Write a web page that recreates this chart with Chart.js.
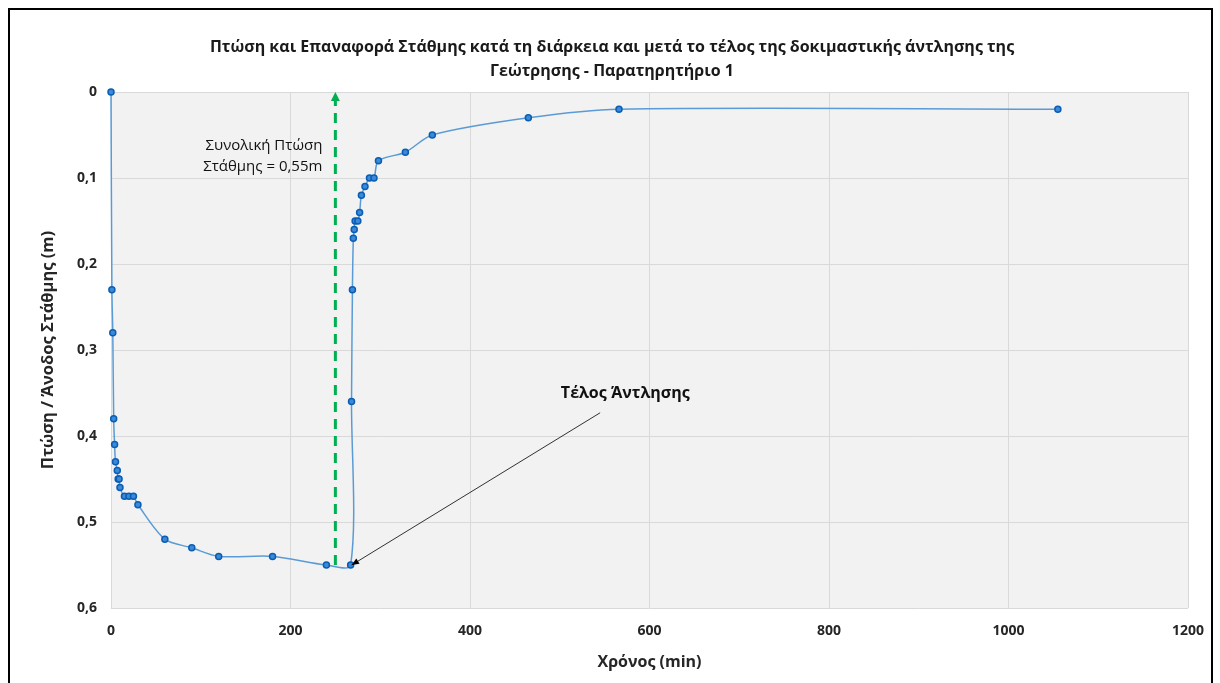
<!DOCTYPE html>
<html>
<head>
<meta charset="utf-8">
<script src="https://cdn.jsdelivr.net/npm/chart.js@4.4.1/dist/chart.umd.min.js"></script>
<style>
  html, body { margin: 0; padding: 0; background: #fff; }
  #wrap { position: relative; width: 1220px; height: 683px; overflow: hidden; }
  #wrap canvas { position: absolute; left: 0; top: 0; }
  #frame { position: absolute; left: 8px; top: 8px; width: 1201px; height: 700px; border: 2px solid #000; }
</style>
</head>
<body>
<div id="wrap">
  <canvas id="chart" width="1220" height="683"></canvas>
  <div id="frame"></div>
</div>
<script>
// pumping phase (min, m)
const pumpTime = [0, 1, 2, 3, 4, 5, 7, 8, 9, 10, 15, 20, 25, 30, 60, 90, 120, 180, 240, 267];
const pumpLevel = [0, 0.23, 0.28, 0.38, 0.41, 0.43, 0.44, 0.45, 0.45, 0.46, 0.47, 0.47, 0.47, 0.48, 0.52, 0.53, 0.54, 0.54, 0.55, 0.55];
// recovery phase
const recTime = [268, 269, 270, 271, 272, 275, 277, 279, 283, 288, 293, 298, 328, 358, 465, 566, 1055];
const recLevel = [0.36, 0.23, 0.17, 0.16, 0.15, 0.15, 0.14, 0.12, 0.11, 0.10, 0.10, 0.08, 0.07, 0.05, 0.03, 0.02, 0.02];

const xTicks = [0, 200, 400, 600, 800, 1000, 1200];
const yTicks = [0, 0.1, 0.2, 0.3, 0.4, 0.5, 0.6];

const titleLines = [
  'Πτώση και Επαναφορά Στάθμης κατά τη διάρκεια και μετά το τέλος της δοκιμαστικής άντλησης της',
  'Γεώτρησης - Παρατηρητήριο 1'
];
const totalDropText = ['Συνολική Πτώση', 'Στάθμης = 0,55m'];
const totalDrop = { x: 250, from: 0.55, to: 0 };
const endLabel = 'Τέλος Άντλησης';
const endLabelAt = { x: 545, y: 0.373 };
const endPoint = { x: 267, y: 0.55 };

const FONT = "'Open Sans', sans-serif";

const points = pumpTime.map((t, i) => ({ x: t, y: pumpLevel[i] }))
  .concat(recTime.map((t, i) => ({ x: t, y: recLevel[i] })));

function fmt(v) {
  if (Math.abs(v) < 1e-9) return '0';
  return v.toFixed(1).replace('.', ',');
}

const plotBg = {
  id: 'plotBg',
  beforeDraw(chart) {
    const { ctx, chartArea: a } = chart;
    ctx.save();
    ctx.fillStyle = '#f2f2f2';
    ctx.fillRect(a.left, a.top, a.right - a.left, a.bottom - a.top);
    ctx.restore();
  }
};

const notes = {
  id: 'notes',
  afterDatasetsDraw(chart) {
    const { ctx, scales: { x, y } } = chart;
    ctx.save();

    // green dashed arrow: total drawdown
    const gx = x.getPixelForValue(totalDrop.x);
    const gy0 = y.getPixelForValue(totalDrop.from);
    const gy1 = y.getPixelForValue(totalDrop.to);
    ctx.strokeStyle = '#00b050';
    ctx.fillStyle = '#00b050';
    ctx.lineWidth = 3;
    ctx.setLineDash([10, 7]);
    ctx.beginPath();
    ctx.moveTo(gx, gy0);
    ctx.lineTo(gx, gy1 + 8);
    ctx.stroke();
    ctx.setLineDash([]);
    ctx.beginPath();
    ctx.moveTo(gx, gy1);
    ctx.lineTo(gx - 4.5, gy1 + 9);
    ctx.lineTo(gx + 4.5, gy1 + 9);
    ctx.closePath();
    ctx.fill();

    ctx.fillStyle = '#111';
    ctx.font = '15px ' + FONT;
    ctx.textAlign = 'right';
    ctx.textBaseline = 'middle';
    ctx.fillText(totalDropText[0], gx - 13, y.getPixelForValue(0.0625));
    ctx.fillText(totalDropText[1], gx - 13, y.getPixelForValue(0.087));

    // black pointer to end of pumping
    const sx = x.getPixelForValue(endLabelAt.x);
    const sy = y.getPixelForValue(endLabelAt.y);
    const ex = x.getPixelForValue(endPoint.x) + 1;
    const ey = y.getPixelForValue(endPoint.y);
    ctx.strokeStyle = '#000';
    ctx.fillStyle = '#000';
    ctx.lineWidth = 0.8;
    ctx.beginPath();
    ctx.moveTo(sx, sy);
    ctx.lineTo(ex, ey);
    ctx.stroke();
    const ang = Math.atan2(ey - sy, ex - sx);
    ctx.beginPath();
    ctx.moveTo(ex, ey);
    ctx.lineTo(ex - 8 * Math.cos(ang - 0.4), ey - 8 * Math.sin(ang - 0.4));
    ctx.lineTo(ex - 8 * Math.cos(ang + 0.4), ey - 8 * Math.sin(ang + 0.4));
    ctx.closePath();
    ctx.fill();

    ctx.font = 'bold 16px ' + FONT;
    ctx.textAlign = 'center';
    ctx.fillStyle = '#111';
    ctx.fillText(endLabel, x.getPixelForValue(573), y.getPixelForValue(0.351));
    ctx.restore();
  }
};

new Chart(document.getElementById('chart').getContext('2d'), {
  type: 'line',
  data: {
    datasets: [{
      data: points,
      borderColor: '#5b9bd5',
      borderWidth: 1.5,
      tension: 0.3,
      clip: 6,
      pointRadius: 3,
      pointBorderWidth: 1.5,
      pointBackgroundColor: '#3b8ad9',
      pointBorderColor: '#0a5db3',
      fill: false
    }]
  },
  options: {
    responsive: false,
    animation: false,
    events: [],
    layout: { padding: { left: 36, right: 32, top: 0, bottom: 8 } },
    plugins: {
      legend: { display: false },
      tooltip: { enabled: false },
      title: {
        display: true,
        text: titleLines,
        color: '#1a1a1a',
        font: { family: FONT, size: 16, weight: 'bold', lineHeight: 1.5 },
        padding: { top: 35, bottom: 9 }
      }
    },
    scales: {
      x: {
        type: 'linear',
        min: 0,
        max: 1200,
        afterBuildTicks: s => { s.ticks = xTicks.map(v => ({ value: v })); },
        afterFit: s => { s.height = 67; },
        grid: { color: '#d9d9d9', drawTicks: false },
        border: { display: false },
        ticks: {
          padding: 15,
          color: '#262626',
          font: { family: FONT, size: 14, weight: 'bold' },
          callback: v => String(v)
        },
        title: {
          display: true,
          text: 'Χρόνος (min)',
          color: '#262626',
          font: { family: FONT, size: 16, weight: 'bold' },
          padding: { top: 4, bottom: 3 }
        }
      },
      y: {
        reverse: true,
        min: 0,
        max: 0.6,
        afterBuildTicks: s => { s.ticks = yTicks.map(v => ({ value: v })); },
        afterFit: s => { s.width = 75; },
        grid: { color: '#d9d9d9', drawTicks: false },
        border: { display: false },
        ticks: {
          padding: 14,
          color: '#262626',
          font: { family: FONT, size: 14, weight: 'bold' },
          callback: v => fmt(v)
        },
        title: {
          display: true,
          text: 'Πτώση / Άνοδος Στάθμης (m)',
          color: '#262626',
          font: { family: FONT, size: 16.5, weight: 'bold' },
          padding: { top: 2, bottom: 4 }
        }
      }
    }
  },
  plugins: [plotBg, notes]
});
</script>
</body>
</html>
